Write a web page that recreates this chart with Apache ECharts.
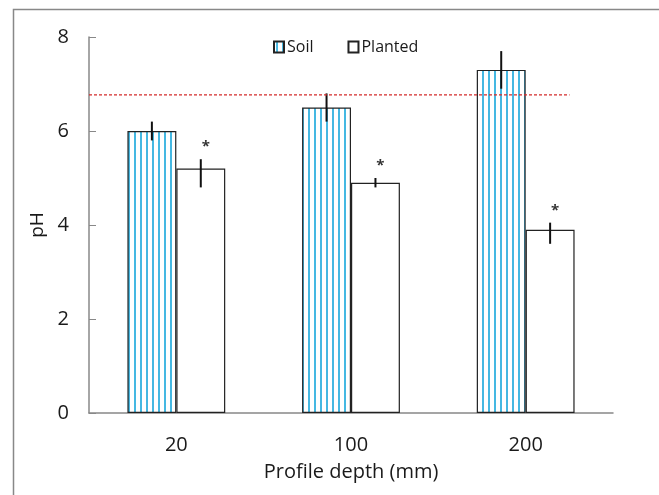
<!DOCTYPE html>
<html>
<head>
<meta charset="utf-8">
<script src="https://cdn.jsdelivr.net/npm/echarts@6/dist/echarts.min.js"></script>
<style>
html,body{margin:0;padding:0;background:#fff;}
#c{width:659px;height:495px;}
</style>
</head>
<body>
<div id="c"></div>
<script>
const categories = ['20', '100', '200'];
const soil = [6.0, 6.5, 7.3];
const planted = [5.2, 4.9, 3.9];
const soilLow = [5.8, 6.2, 6.9];
const soilHigh = [6.2, 6.8, 7.7];
const plantedLow = [4.8, 4.8, 3.6];
const plantedHigh = [5.4, 5.0, 4.05];
const significant = ['*', '*', '*'];
const referencePH = 6.77;
const yTicks = [0, 2, 4, 6, 8];

const FONT = 'Open Sans';

function hatch() {
  const cv = document.createElement('canvas');
  cv.width = 6; cv.height = 6;
  const g = cv.getContext('2d');
  g.fillStyle = '#ffffff';
  g.fillRect(0, 0, 6, 6);
  g.fillStyle = '#45b8e2';
  g.fillRect(2, 0, 2, 6);
  return cv;
}
const hatchImg = hatch();

const chart = echarts.init(document.getElementById('c'), null, {renderer: 'canvas'});

function errItem(lows, highs, side, withStar) {
  return function (params, api) {
    const i = api.value(0);
    const band = api.size([1, 0])[0];
    const off = side * band * 0.14;
    const pHi = api.coord([i, api.value(2)]);
    const pLo = api.coord([i, api.value(1)]);
    const x = pHi[0] + off;
    const children = [{
      type: 'line',
      shape: {x1: x, y1: pHi[1], x2: x, y2: pLo[1]},
      style: {stroke: '#111', lineWidth: 2}
    }];
    if (withStar) {
      children.push({
        type: 'text',
        style: {
          text: significant[i], x: x + 5, y: pHi[1] - 12,
          fill: '#333', font: 'bold 15px ' + FONT,
          align: 'center', verticalAlign: 'middle'
        }
      });
    }
    return {type: 'group', children: children};
  };
}

const option = {
  animation: false,
  backgroundColor: '#ffffff',
  textStyle: {fontFamily: FONT},
  grid: {left: 89, right: 46, top: 37, bottom: 82},
  legend: {
    left: 268, top: 34,
    icon: 'rect',
    itemWidth: 10, itemHeight: 11, itemGap: 34,
    textStyle: {fontSize: 16, color: '#1a1a1a', fontFamily: FONT, padding: [0, 0, 0, -2]},
    data: ['Soil', 'Planted']
  },
  xAxis: {
    type: 'category',
    data: categories,
    name: 'Profile depth (mm)',
    nameLocation: 'middle',
    nameGap: 49,
    nameTextStyle: {fontSize: 20, color: '#1a1a1a', fontFamily: FONT},
    axisLine: {lineStyle: {color: '#888', width: 1.5}},
    axisTick: {inside: true, length: 6, lineStyle: {color: '#888'}},
    axisLabel: {fontSize: 20, color: '#1a1a1a', margin: 22, fontFamily: FONT},
    splitLine: {show: false}
  },
  yAxis: {
    type: 'value',
    min: yTicks[0], max: yTicks[yTicks.length - 1], interval: 2,
    name: 'pH',
    nameLocation: 'middle',
    nameGap: 42,
    nameTextStyle: {fontSize: 19, color: '#1a1a1a', fontFamily: FONT},
    axisLine: {show: true, lineStyle: {color: '#888', width: 1.5}},
    axisTick: {show: true, inside: true, length: 7, lineStyle: {color: '#888'}},
    axisLabel: {fontSize: 20, color: '#1a1a1a', margin: 20, fontFamily: FONT},
    splitLine: {show: false}
  },
  series: [
    {
      name: 'Soil', type: 'bar', data: soil,
      barWidth: '28%', barGap: '0%',
      itemStyle: {color: {image: hatchImg, repeat: 'repeat'}, borderColor: '#222', borderWidth: 1.2}
    },
    {
      name: 'Planted', type: 'bar', data: planted,
      barWidth: '28%', barGap: '0%',
      itemStyle: {color: '#ffffff', borderColor: '#222', borderWidth: 1.2}
    },
    {
      type: 'custom', name: 'soilErr', z: 5,
      data: categories.map((c, i) => [i, soilLow[i], soilHigh[i]]),
      renderItem: errItem(soilLow, soilHigh, -1, false),
      encode: {x: 0, y: [1, 2]}
    },
    {
      type: 'custom', name: 'plantedErr', z: 5,
      data: categories.map((c, i) => [i, plantedLow[i], plantedHigh[i]]),
      renderItem: errItem(plantedLow, plantedHigh, 1, true),
      encode: {x: 0, y: [1, 2]}
    },
    {
      type: 'custom', name: 'ref', z: 6,
      data: [[0, referencePH]],
      encode: {y: 1},
      renderItem: function (params, api) {
        const cs = params.coordSys;
        const y = api.coord([0, api.value(1)])[1];
        return {
          type: 'line',
          shape: {x1: cs.x, y1: y, x2: cs.x + cs.width * 0.917, y2: y},
          style: {stroke: '#d42a2a', lineWidth: 1.2, lineDash: [3, 2]}
        };
      }
    }
  ],
  graphic: [
    {type: 'polyline', shape: {points: [[13.5, 495], [13.5, 9.5], [659, 9.5]]},
     style: {stroke: '#888', lineWidth: 1.5, fill: null}, silent: true}
  ]
};
chart.setOption(option);
</script>
</body>
</html>
